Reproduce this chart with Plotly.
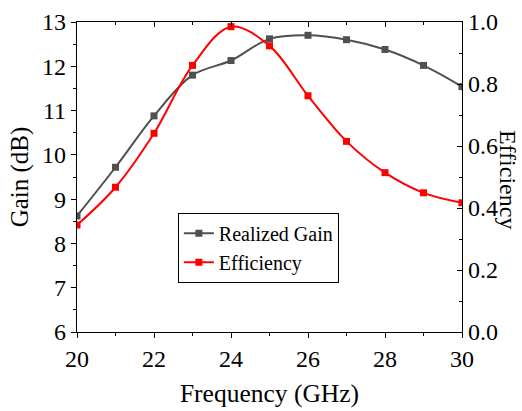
import plotly.graph_objects as go

freq = [20, 21, 22, 23, 24, 25, 26, 27, 28, 29, 30]
gain = [8.62, 9.72, 10.88, 11.80, 12.13, 12.62, 12.70, 12.60, 12.38, 12.02, 11.54]
eff = [0.345, 0.467, 0.641, 0.86, 0.985, 0.923, 0.762, 0.615, 0.514, 0.449, 0.417]

FONT = "Liberation Serif, Times New Roman, serif"
GRAY = "#505050"
RED = "#ff0000"

fig = go.Figure()
fig.add_trace(go.Scatter(
    x=freq, y=gain, name="Realized Gain", mode="lines+markers",
    line=dict(color=GRAY, width=2, shape="spline", smoothing=1),
    marker=dict(symbol="square", size=7, color=GRAY),
    xaxis="x", yaxis="y"))
fig.add_trace(go.Scatter(
    x=freq, y=eff, name="Efficiency", mode="lines+markers",
    line=dict(color=RED, width=2, shape="spline", smoothing=1),
    marker=dict(symbol="square", size=7, color=RED),
    xaxis="x", yaxis="y2"))
# invisible trace to anchor the top axis
fig.add_trace(go.Scatter(x=[freq[0], freq[-1]], y=[gain[0], gain[0]], mode="markers",
                         marker=dict(opacity=0), showlegend=False, hoverinfo="skip",
                         xaxis="x2", yaxis="y"))

axis_common = dict(showgrid=False, zeroline=False, showline=True, linecolor="black",
                   linewidth=1.3, tickcolor="black", tickwidth=1.3, automargin=False,
                   tickfont=dict(family=FONT, size=24, color="black"))

fig.update_layout(
    width=522, height=411,
    margin=dict(l=77, r=60, t=22, b=78.5),
    paper_bgcolor="white", plot_bgcolor="white",
    font=dict(family=FONT),
    showlegend=True,
    legend=dict(x=0.262, y=0.385, xanchor="left", yanchor="top",
                bordercolor="black", borderwidth=1, bgcolor="white",
                font=dict(family=FONT, size=20, color="black"),
                tracegroupgap=0, itemwidth=30),
    xaxis=dict(range=[20, 30], dtick=2, tick0=20, ticks="outside", ticklen=5,
               minor=dict(dtick=1, ticks="outside", ticklen=3, tickcolor="black", tickwidth=1.3),
               title=dict(text="Frequency (GHz)", font=dict(family=FONT, size=25.5, color="black"), standoff=13),
               **axis_common),
    xaxis2=dict(range=[20, 30], dtick=2, tick0=20, ticks="inside", ticklen=5,
                minor=dict(dtick=1, ticks="inside", ticklen=3, tickcolor="black", tickwidth=1.3),
                overlaying="x", side="top", showticklabels=False, anchor="y",
                **axis_common),
    yaxis=dict(range=[6, 13], dtick=1, ticks="outside", ticklen=5,
               minor=dict(dtick=0.5, ticks="outside", ticklen=3, tickcolor="black", tickwidth=1.3),
               title=dict(text="Gain (dB)", font=dict(family=FONT, size=25, color="black"), standoff=6),
               **axis_common),
    yaxis2=dict(range=[0, 1.0], dtick=0.2, tickformat=".1f", ticks="inside", ticklen=5,
                minor=dict(dtick=0.1, ticks="inside", ticklen=3, tickcolor="black", tickwidth=1.3),
                overlaying="y", side="right", anchor="x",
                **axis_common),
    annotations=[dict(text="Efficiency", textangle=90, xref="paper", yref="paper",
                      x=1.12, y=0.49, xanchor="center", yanchor="middle", showarrow=False,
                      font=dict(family=FONT, size=24, color="black"))],
)

fig.write_html("out.html")
